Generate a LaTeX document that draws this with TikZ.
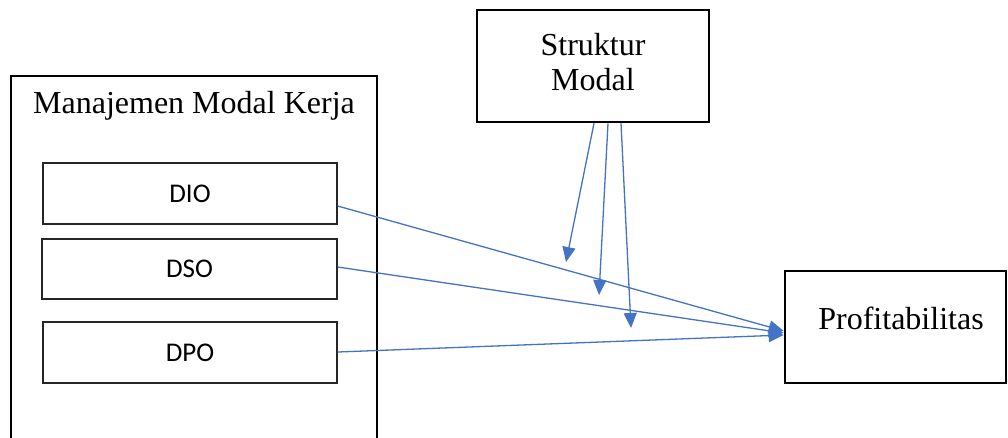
\documentclass[tikz,border=0pt]{standalone}
\usepackage{fontspec}
\setmainfont{Liberation Serif}
\newfontfamily\calib{Carlito}
\usetikzlibrary{arrows.meta}
\definecolor{arrblue}{HTML}{4472C4}
\begin{document}
\begin{tikzpicture}[x=1pt,y=-1pt,
  bigbox/.style={draw=black,line width=2.5pt,inner sep=0pt},
  smallbox/.style={draw=black!85,line width=1.3pt,inner sep=0pt,font=\calib\fontsize{27}{30}\selectfont},
  serif/.style={font=\fontsize{32}{35}\selectfont,align=center},
  conn/.style={draw=arrblue,line width=1.3pt,-{Triangle[length=15pt,width=13pt]}}]
\useasboundingbox (0,0) rectangle (1008,437);
\begin{scope}
\clip (0,0) rectangle (1008,437);
\draw[line width=2.5pt] (11,500) -- (11,76) -- (377,76) -- (377,500);
\end{scope}
\node[serif] (mmk) at (194,106) {Manajemen Modal Kerja};
\node[smallbox,minimum width=294pt,minimum height=61pt] (dio) at (190,193.5) {DIO};
\node[smallbox,minimum width=295pt,minimum height=60pt] (dso) at (189.5,269) {DSO};
\node[smallbox,minimum width=294pt,minimum height=61pt] (dpo) at (190,352.5) {DPO};
\node[bigbox,minimum width=232pt,minimum height=112pt] (sm) at (593,66) {};
\node[serif] (smt) at (593,62) {Struktur\\Modal};
\node[bigbox,minimum width=221pt,minimum height=112pt] (pr) at (895.5,327) {};
\node[serif] (prt) at (901,318) {Profitabilitas};
\coordinate (a1) at (566,262);
\coordinate (a2) at (599,295);
\coordinate (a3) at (631,328);
\draw[conn] (dio.east |- 0,206) -- (pr.west |- 0,331);
\draw[conn] (dso.east |- 0,267) -- (pr.west |- 0,333);
\draw[conn] (dpo.east |- 0,352) -- (pr.west |- 0,335);
\draw[conn] (sm.south -| 594,0) -- (a1);
\draw[conn] (sm.south -| 608,0) -- (a2);
\draw[conn] (sm.south -| 621,0) -- (a3);
\end{tikzpicture}
\end{document}
